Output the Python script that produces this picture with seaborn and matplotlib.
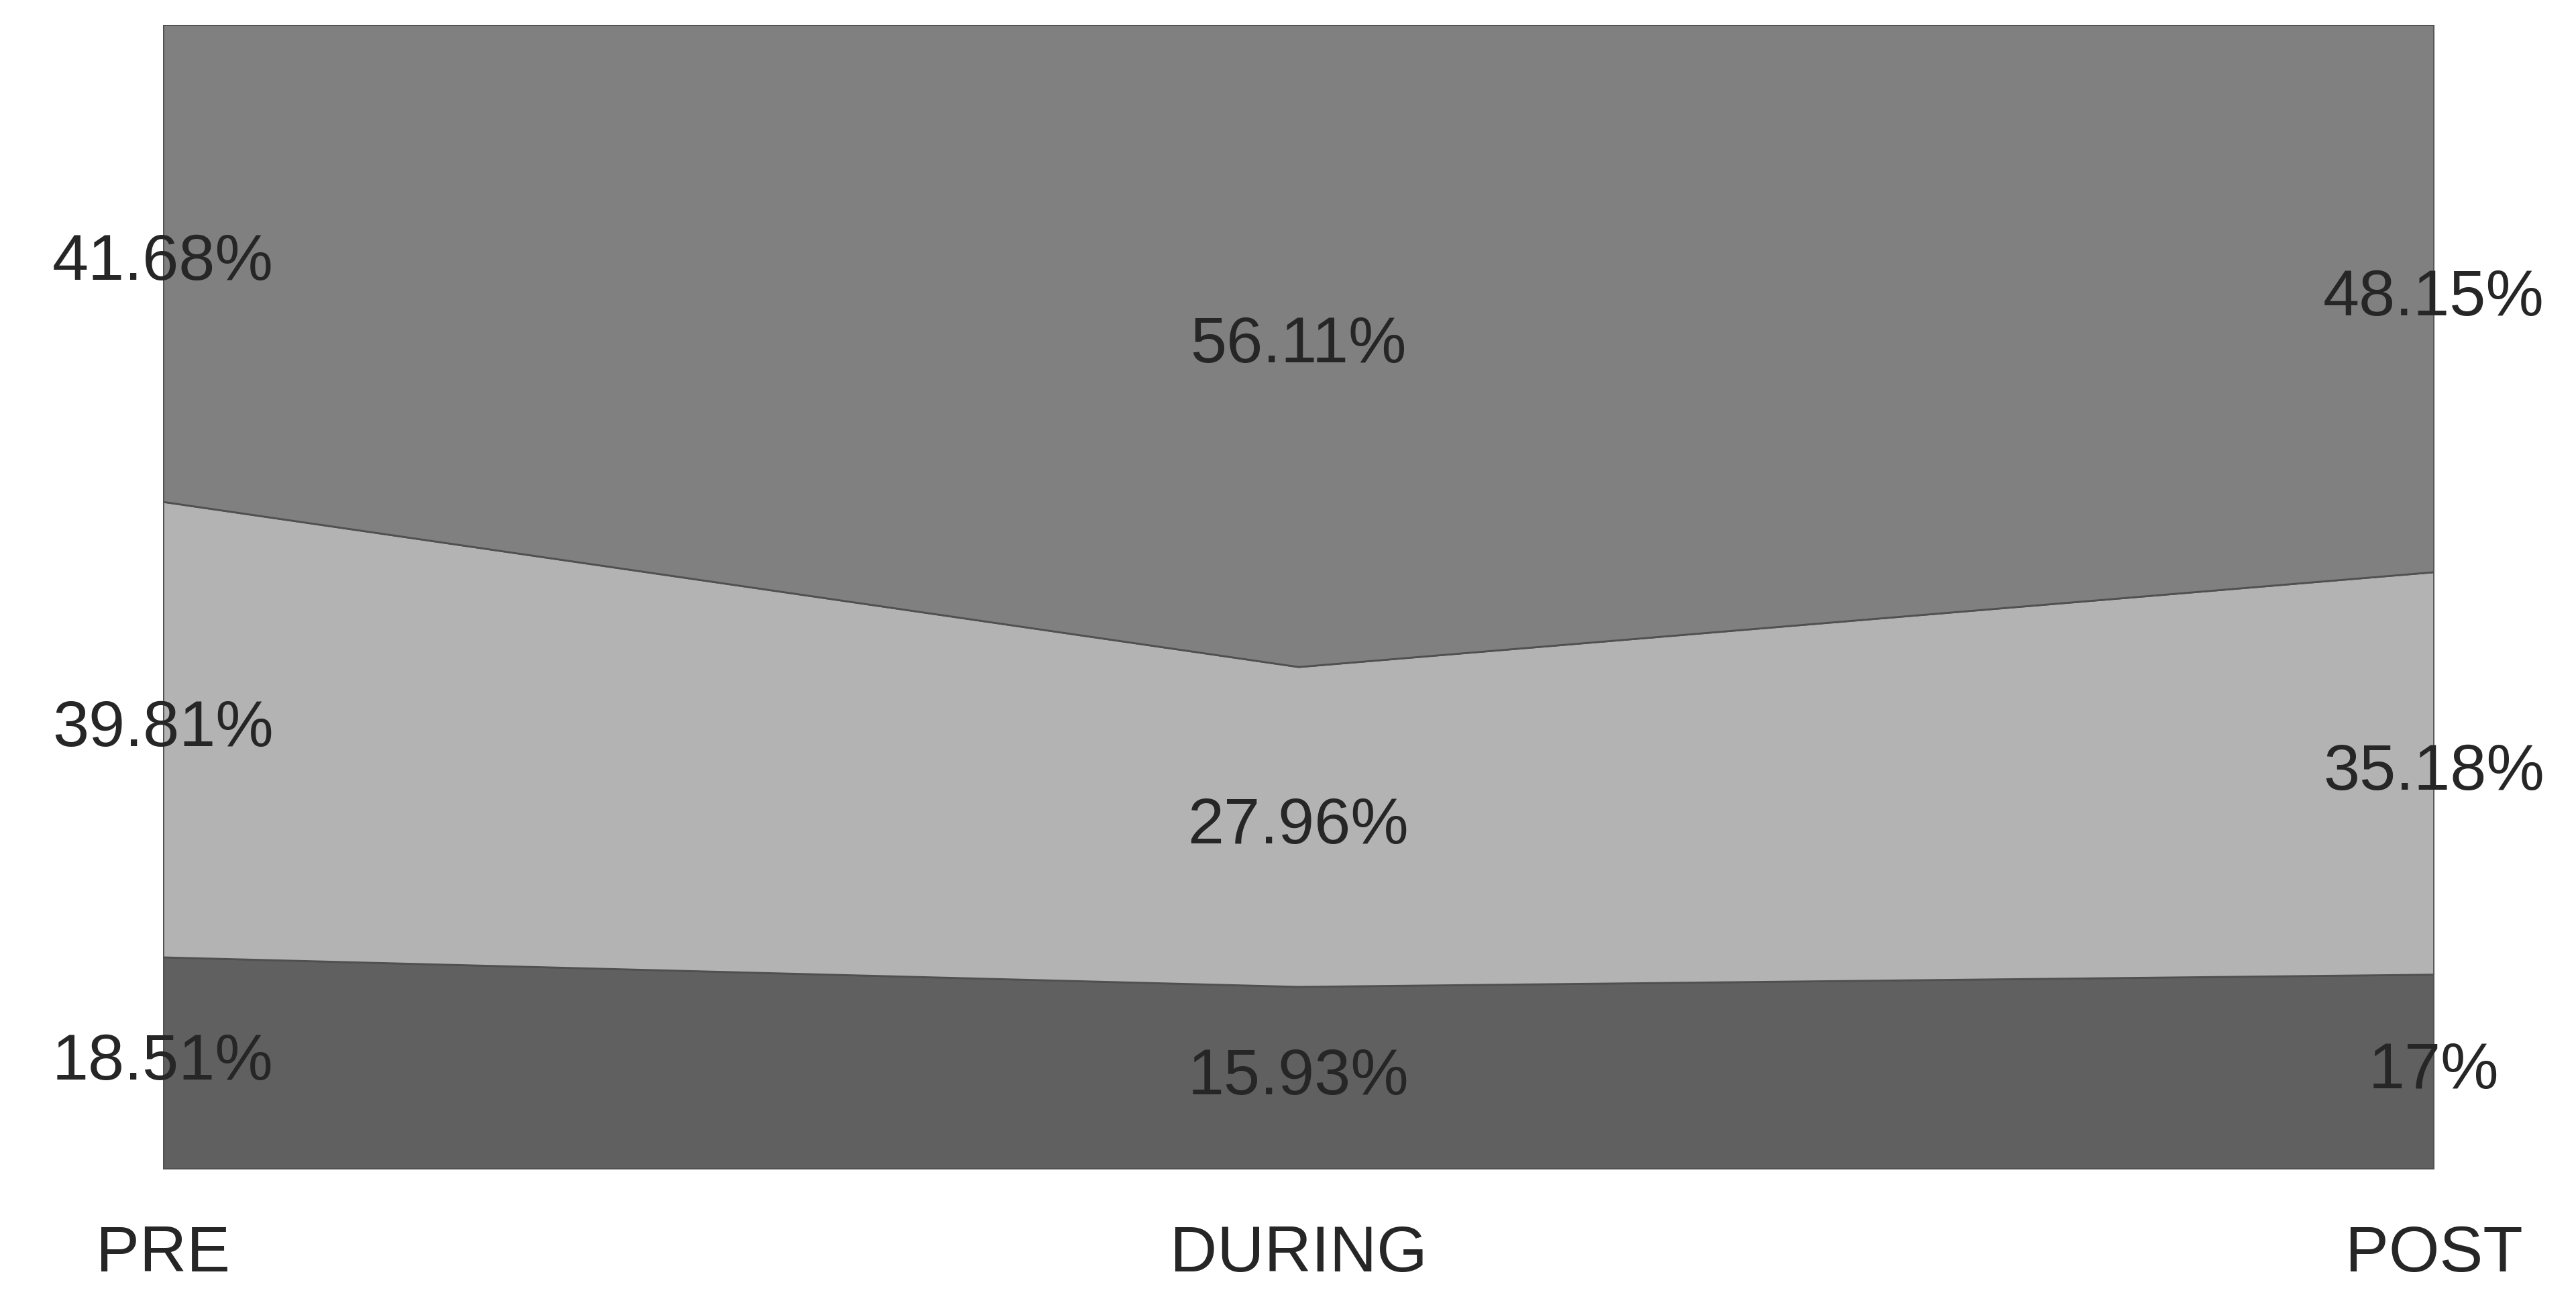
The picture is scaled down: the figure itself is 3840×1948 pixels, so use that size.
import numpy as np
import matplotlib
matplotlib.use("Agg")
import matplotlib.pyplot as plt
import seaborn as sns

phases = ["PRE", "DURING", "POST"]
bottom_vals = [18.51, 15.93, 17]
middle_vals = [39.81, 27.96, 35.18]
top_vals = [41.68, 56.11, 48.15]
bottom_lbl = ["18.51%", "15.93%", "17%"]
middle_lbl = ["39.81%", "27.96%", "35.18%"]
top_lbl = ["41.68%", "56.11%", "48.15%"]

sns.set_style("white")
plt.rcParams['font.family'] = ['Liberation Sans', 'DejaVu Sans']

fig = plt.figure(figsize=(38.41, 19.48), dpi=100)
ax = fig.add_axes([243 / 3841, 1 - 1742 / 1948, (3628 - 243) / 3841, (1742 - 37) / 1948])

x = np.arange(len(phases))
b = np.array(bottom_vals)
m = np.array(middle_vals)
t = 100 - b - m  # top band fills to 100%
ax.stackplot(x, b, m, t, colors=["#606060", "#b3b3b3", "#808080"],
             edgecolor="#505050", linewidth=2)

for i in x:
    ax.text(i, b[i] / 2, bottom_lbl[i], ha="center", va="center", fontsize=70)
    ax.text(i, b[i] + m[i] / 2, middle_lbl[i], ha="center", va="center", fontsize=70)
    ax.text(i, b[i] + m[i] + t[i] / 2, top_lbl[i], ha="center", va="center", fontsize=70)

ax.set_xlim(0, 2)
ax.set_ylim(0, 100)
ax.set_yticks([])
ax.set_xticks(x)
ax.set_xticklabels(phases, fontsize=70)
ax.tick_params(axis="x", length=0, pad=60)
for s in ax.spines.values():
    s.set_visible(False)

fig.savefig("out.png", dpi=100, facecolor="white")
